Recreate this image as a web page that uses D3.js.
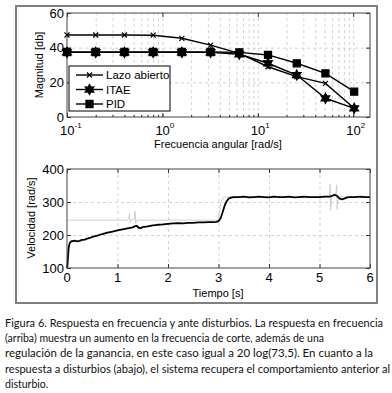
<!DOCTYPE html>
<html>
<head>
<meta charset="utf-8">
<script src="https://cdn.jsdelivr.net/npm/d3@7"></script>
<style>
  body { margin: 0; background: #fff; }
  svg text { font-family: "Liberation Sans", Arial, sans-serif; }
</style>
</head>
<body>
<div id="chart"></div>
<script>
// respuesta en frecuencia (arriba)
const frecuencias = [0.1, 0.2, 0.4, 0.8, 1.6, 3.2, 6.4, 12.8, 25.6, 51.2, 102.4];
const lazoAbierto = [47.3, 47.3, 47.3, 47.2, 45.4, 41.5, 36.7, 29.0, 23.3, 19.4, 5.0];
const itae = [37.3, 37.3, 37.3, 37.3, 37.3, 37.3, 36.2, 31.0, 24.2, 10.8, 5.0];
const pid = [37.5, 37.5, 37.5, 37.5, 37.5, 37.5, 37.3, 35.8, 31.0, 25.2, 14.6];
const leyenda = ["Lazo abierto", "ITAE", "PID"];
const magTicks = [0, 20, 40, 60];
const freqTicks = [0.1, 1, 10, 100];
const freqExp = ["-1", "0", "1", "2"];

// respuesta a disturbios (abajo)
const velocidad = [
  [0, 100], [0.01, 110], [0.02, 135], [0.03, 155], [0.04, 167], [0.05, 173], [0.06, 177],
  [0.08, 180], [0.1, 182], [0.12, 181], [0.15, 183], [0.2, 181], [0.25, 182], [0.3, 185],
  [0.35, 186], [0.4, 189], [0.45, 191], [0.5, 194], [0.6, 198], [0.7, 203], [0.8, 207],
  [0.9, 210], [1.0, 214], [1.1, 217], [1.2, 220], [1.3, 223], [1.35, 227], [1.38, 228],
  [1.42, 222], [1.46, 221], [1.5, 224], [1.6, 226], [1.7, 229], [1.8, 231], [1.9, 232],
  [2.0, 234], [2.1, 235], [2.2, 236], [2.3, 235], [2.4, 237], [2.5, 237], [2.6, 238],
  [2.7, 238], [2.8, 239], [2.9, 239], [2.96, 240], [3.0, 242], [3.04, 250], [3.08, 268],
  [3.12, 288], [3.16, 302], [3.2, 310], [3.25, 313], [3.3, 315], [3.4, 315], [3.5, 316],
  [3.6, 314], [3.7, 315], [3.8, 316], [3.9, 315], [4.0, 314], [4.1, 316], [4.2, 315],
  [4.3, 315], [4.4, 316], [4.5, 314], [4.6, 315], [4.7, 316], [4.8, 315], [4.9, 315],
  [5.0, 315], [5.1, 316], [5.2, 316], [5.25, 319], [5.3, 322], [5.35, 318], [5.4, 310],
  [5.45, 308], [5.5, 311], [5.55, 314], [5.6, 315], [5.7, 315], [5.8, 316], [5.9, 315], [6.0, 315]
];
// senal gris (referencia con disturbios)
const referencia = [
  [0, 245], [1.2, 245], [1.22, 250], [1.24, 265], [1.25, 238], [1.27, 245], [1.33, 248],
  [1.35, 272], [1.36, 236], [1.38, 245], [3.0, 245], [3.02, 270], [3.05, 300], [3.1, 315],
  [5.2, 315], [5.21, 355], [5.22, 275], [5.24, 315], [5.32, 318], [5.34, 352], [5.35, 278],
  [5.37, 315], [6.0, 315]
];
const velTicks = [100, 200, 300, 400];
const tiempoTicks = [0, 1, 2, 3, 4, 5, 6];

const caption = [
  "Figura 6. Respuesta en frecuencia y ante disturbios. La respuesta en frecuencia",
  "(arriba) muestra un aumento en la frecuencia de corte, además de una",
  "regulación de la ganancia, en este caso igual a 20 log(73,5). En cuanto a la",
  "respuesta a disturbios (abajo), el sistema recupera el comportamiento anterior al",
  "disturbio."
];
const captionWidths = [378, 319, 368, 385, null];

const width = 392, height = 393;
const svg = d3.select("#chart").append("svg")
  .attr("width", width)
  .attr("height", height);

// marco exterior
svg.append("rect")
  .attr("x", 16).attr("y", 6)
  .attr("width", 361).attr("height", 297)
  .attr("fill", "#fff")
  .attr("stroke", "#808080")
  .attr("stroke-width", 2);

const L = 67, R = 370;
const top1 = 13, bot1 = 117;
const top2 = 169, bot2 = 268;

const xF = d3.scaleLog().domain([0.1, 150]).range([L, R]);
const yM = d3.scaleLinear().domain([0, 60]).range([bot1, top1]);
const xT = d3.scaleLinear().domain([0, 6]).range([L, R]);
const yV = d3.scaleLinear().domain([100, 400]).range([bot2, top2]);

function styleGrid(g) {
  g.select(".domain").remove();
  g.selectAll(".tick line")
    .attr("stroke", "#c8c8c8")
    .attr("stroke-width", 0.8)
    .attr("stroke-dasharray", "3,3");
}
function styleTicks(g) {
  g.select(".domain").remove();
  g.selectAll(".tick line").attr("stroke", "#333");
  g.selectAll(".tick text").remove();
}

// ---------- grafica superior ----------
const minor = [];
for (let e = -1; e <= 2; e++) {
  for (let m = 1; m <= 9; m++) {
    const v = m * Math.pow(10, e);
    if (v > 0.1 && v <= 150) minor.push(v);
  }
}
svg.append("g")
  .attr("transform", `translate(0,${bot1})`)
  .call(d3.axisBottom(xF).tickValues(minor).tickSize(-(bot1 - top1)).tickFormat(""))
  .call(styleGrid);
svg.append("g")
  .attr("transform", `translate(${L},0)`)
  .call(d3.axisLeft(yM).tickValues([20, 40]).tickSize(-(R - L)).tickFormat(""))
  .call(styleGrid);

// marcas de ejes
svg.append("g").attr("transform", `translate(0,${bot1})`)
  .call(d3.axisBottom(xF).tickValues(freqTicks).tickSize(-4).tickFormat("")).call(styleTicks);
svg.append("g").attr("transform", `translate(0,${bot1})`)
  .call(d3.axisBottom(xF).tickValues(minor).tickSize(-2).tickFormat("")).call(styleTicks);
svg.append("g").attr("transform", `translate(0,${top1})`)
  .call(d3.axisTop(xF).tickValues(freqTicks).tickSize(-4).tickFormat("")).call(styleTicks);
svg.append("g").attr("transform", `translate(${L},0)`)
  .call(d3.axisLeft(yM).tickValues(magTicks).tickSize(-4).tickFormat("")).call(styleTicks);
svg.append("g").attr("transform", `translate(${R},0)`)
  .call(d3.axisRight(yM).tickValues(magTicks).tickSize(-4).tickFormat("")).call(styleTicks);

svg.append("rect")
  .attr("x", L).attr("y", top1)
  .attr("width", R - L).attr("height", bot1 - top1)
  .attr("fill", "none").attr("stroke", "#444").attr("stroke-width", 1);

// etiquetas y
svg.selectAll(".ymag")
  .data(magTicks)
  .enter().append("text")
  .attr("class", "ymag")
  .attr("x", L - 3)
  .attr("y", d => yM(d) + 4.5)
  .attr("text-anchor", "end")
  .attr("font-size", 13)
  .text(d => d);

// etiquetas x con exponente
const xl = svg.selectAll(".xfreq")
  .data(freqTicks)
  .enter().append("text")
  .attr("class", "xfreq")
  .attr("x", d => xF(d) - 7)
  .attr("y", 135)
  .attr("font-size", 13);
xl.append("tspan").text("10");
xl.append("tspan")
  .attr("dy", -7)
  .attr("font-size", 8)
  .text((d, i) => freqExp[i]);

svg.append("text")
  .attr("x", 218).attr("y", 148)
  .attr("text-anchor", "middle")
  .attr("font-size", 11)
  .text("Frecuencia angular [rad/s]");
svg.append("text")
  .attr("transform", `translate(43,65) rotate(-90)`)
  .attr("text-anchor", "middle")
  .attr("font-size", 11)
  .text("Magnitud [db]");

// series
const lineF = vals => d3.line()
  .x((d, i) => xF(frecuencias[i]))
  .y(d => yM(d))(vals);

const hexagram = function (r) {
  const pts = [];
  for (let k = 0; k < 12; k++) {
    const a = -Math.PI / 2 + k * Math.PI / 6;
    const rr = k % 2 === 0 ? r : r * 0.55;
    pts.push([rr * Math.cos(a), rr * Math.sin(a)]);
  }
  return "M" + pts.map(p => p.join(",")).join("L") + "Z";
};
const markers = {
  x: { d: "M-2.5,-2.5L2.5,2.5M-2.5,2.5L2.5,-2.5", fill: "none" },
  hex: { d: hexagram(5), fill: "#000" },
  sq: { d: d3.symbol(d3.symbolSquare, 50)(), fill: "#000" }
};
const series = [
  { name: leyenda[0], vals: lazoAbierto, m: "x" },
  { name: leyenda[1], vals: itae, m: "hex" },
  { name: leyenda[2], vals: pid, m: "sq" }
];

series.forEach(s => {
  svg.append("path")
    .attr("d", lineF(s.vals))
    .attr("fill", "none")
    .attr("stroke", "#000")
    .attr("stroke-width", 1.4);
  svg.selectAll(".m-" + s.m)
    .data(s.vals)
    .enter().append("path")
    .attr("class", "m-" + s.m)
    .attr("transform", (d, i) => `translate(${xF(frecuencias[i])},${yM(d)})`)
    .attr("d", markers[s.m].d)
    .attr("fill", markers[s.m].fill)
    .attr("stroke", "#000")
    .attr("stroke-width", 1.2);
});

// leyenda
const lg = svg.append("g");
lg.append("rect")
  .attr("x", 69).attr("y", 66)
  .attr("width", 101).attr("height", 45)
  .attr("fill", "#fff").attr("stroke", "#000").attr("stroke-width", 1);
series.forEach((s, i) => {
  const y = 75 + i * 14.5;
  lg.append("line")
    .attr("x1", 76).attr("x2", 103)
    .attr("y1", y).attr("y2", y)
    .attr("stroke", "#000").attr("stroke-width", 1.4);
  lg.append("path")
    .attr("transform", `translate(89.5,${y})`)
    .attr("d", markers[s.m].d)
    .attr("fill", markers[s.m].fill)
    .attr("stroke", "#000").attr("stroke-width", 1.2);
  lg.append("text")
    .attr("x", 106).attr("y", y + 4)
    .attr("font-size", 11.5)
    .text(s.name);
});

// ---------- grafica inferior ----------
svg.append("g")
  .attr("transform", `translate(0,${bot2})`)
  .call(d3.axisBottom(xT).tickValues([1, 2, 3, 4, 5]).tickSize(-(bot2 - top2)).tickFormat(""))
  .call(styleGrid);
svg.append("g")
  .attr("transform", `translate(${L},0)`)
  .call(d3.axisLeft(yV).tickValues([200, 300]).tickSize(-(R - L)).tickFormat(""))
  .call(styleGrid);

svg.append("g").attr("transform", `translate(0,${bot2})`)
  .call(d3.axisBottom(xT).tickValues(tiempoTicks).tickSize(-4).tickFormat("")).call(styleTicks);
svg.append("g").attr("transform", `translate(0,${top2})`)
  .call(d3.axisTop(xT).tickValues(tiempoTicks).tickSize(-4).tickFormat("")).call(styleTicks);
svg.append("g").attr("transform", `translate(${L},0)`)
  .call(d3.axisLeft(yV).tickValues(velTicks).tickSize(-4).tickFormat("")).call(styleTicks);
svg.append("g").attr("transform", `translate(${R},0)`)
  .call(d3.axisRight(yV).tickValues(velTicks).tickSize(-4).tickFormat("")).call(styleTicks);

const lineV = d3.line().x(d => xT(d[0])).y(d => yV(d[1]));
svg.append("path")
  .attr("d", lineV(referencia))
  .attr("fill", "none")
  .attr("stroke", "#cfcfcf")
  .attr("stroke-width", 1);
svg.append("path")
  .attr("d", lineV(velocidad))
  .attr("fill", "none")
  .attr("stroke", "#000")
  .attr("stroke-width", 1.8)
  .attr("stroke-linejoin", "round");

svg.append("rect")
  .attr("x", L).attr("y", top2)
  .attr("width", R - L).attr("height", bot2 - top2)
  .attr("fill", "none").attr("stroke", "#444").attr("stroke-width", 1);

svg.selectAll(".yvel")
  .data(velTicks)
  .enter().append("text")
  .attr("class", "yvel")
  .attr("x", L - 3)
  .attr("y", d => yV(d) + 4.5)
  .attr("text-anchor", "end")
  .attr("font-size", 13)
  .text(d => d);
svg.selectAll(".xt")
  .data(tiempoTicks)
  .enter().append("text")
  .attr("class", "xt")
  .attr("x", d => xT(d))
  .attr("y", 282)
  .attr("text-anchor", "middle")
  .attr("font-size", 13)
  .text(d => d);

svg.append("text")
  .attr("x", 218).attr("y", 297)
  .attr("text-anchor", "middle")
  .attr("font-size", 11)
  .text("Tiempo [s]");
svg.append("text")
  .attr("transform", `translate(35,218) rotate(-90)`)
  .attr("text-anchor", "middle")
  .attr("font-size", 11)
  .text("Velocidad [rad/s]");

// pie de figura
caption.forEach((t, i) => {
  const tx = svg.append("text")
    .attr("x", 5)
    .attr("y", 327 + i * 15.2)
    .attr("font-size", 10.5)
    .style("font-family", "Lato, 'Noto Sans', sans-serif")
    .attr("fill", "#111")
    .text(t);
  if (captionWidths[i]) tx.attr("textLength", captionWidths[i]).attr("lengthAdjust", "spacingAndGlyphs");
});
</script>
</body>
</html>
